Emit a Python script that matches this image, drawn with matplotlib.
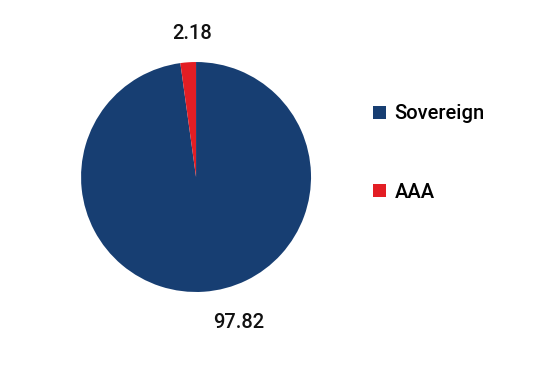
import matplotlib
matplotlib.use("Agg")
import matplotlib.pyplot as plt

plt.rcParams['font.family'] = ['Roboto', 'DejaVu Sans']

categories = ["Sovereign", "AAA"]
values = [97.82, 2.18]
colors = ["#173e72", "#e31e24"]

fig = plt.figure(figsize=(5.59, 3.77), dpi=100)
ax = fig.add_axes([0.145, 0.2255, 0.4114, 0.610])

wedges, texts = ax.pie(values, colors=colors, startangle=90, counterclock=False,
                       labels=[f"{v:.2f}" for v in values], labeldistance=1.27,
                       textprops={'fontsize': 14.5, 'color': '#111111', 'fontweight': 'medium'})
for t in texts:
    t.set_ha('center')
    t.set_va('center')
# nudge labels like the original
x, y = texts[0].get_position()
texts[0].set_position((x + 0.28, y))
x, y = texts[1].get_position()
texts[1].set_position((x + 0.05, y - 0.02))
ax.set_xlim(-1, 1)
ax.set_ylim(-1, 1)
ax.set_aspect('equal')

leg = fig.legend(wedges, categories, loc='upper left', bbox_to_anchor=(0.650, 0.75),
                 frameon=False, prop={'size': 14.5, 'weight': 'medium'},
                 handlelength=0.6, handleheight=0.6,
                 handletextpad=0.45, labelspacing=2.95, borderpad=0)

fig.savefig("out.png", dpi=100)
